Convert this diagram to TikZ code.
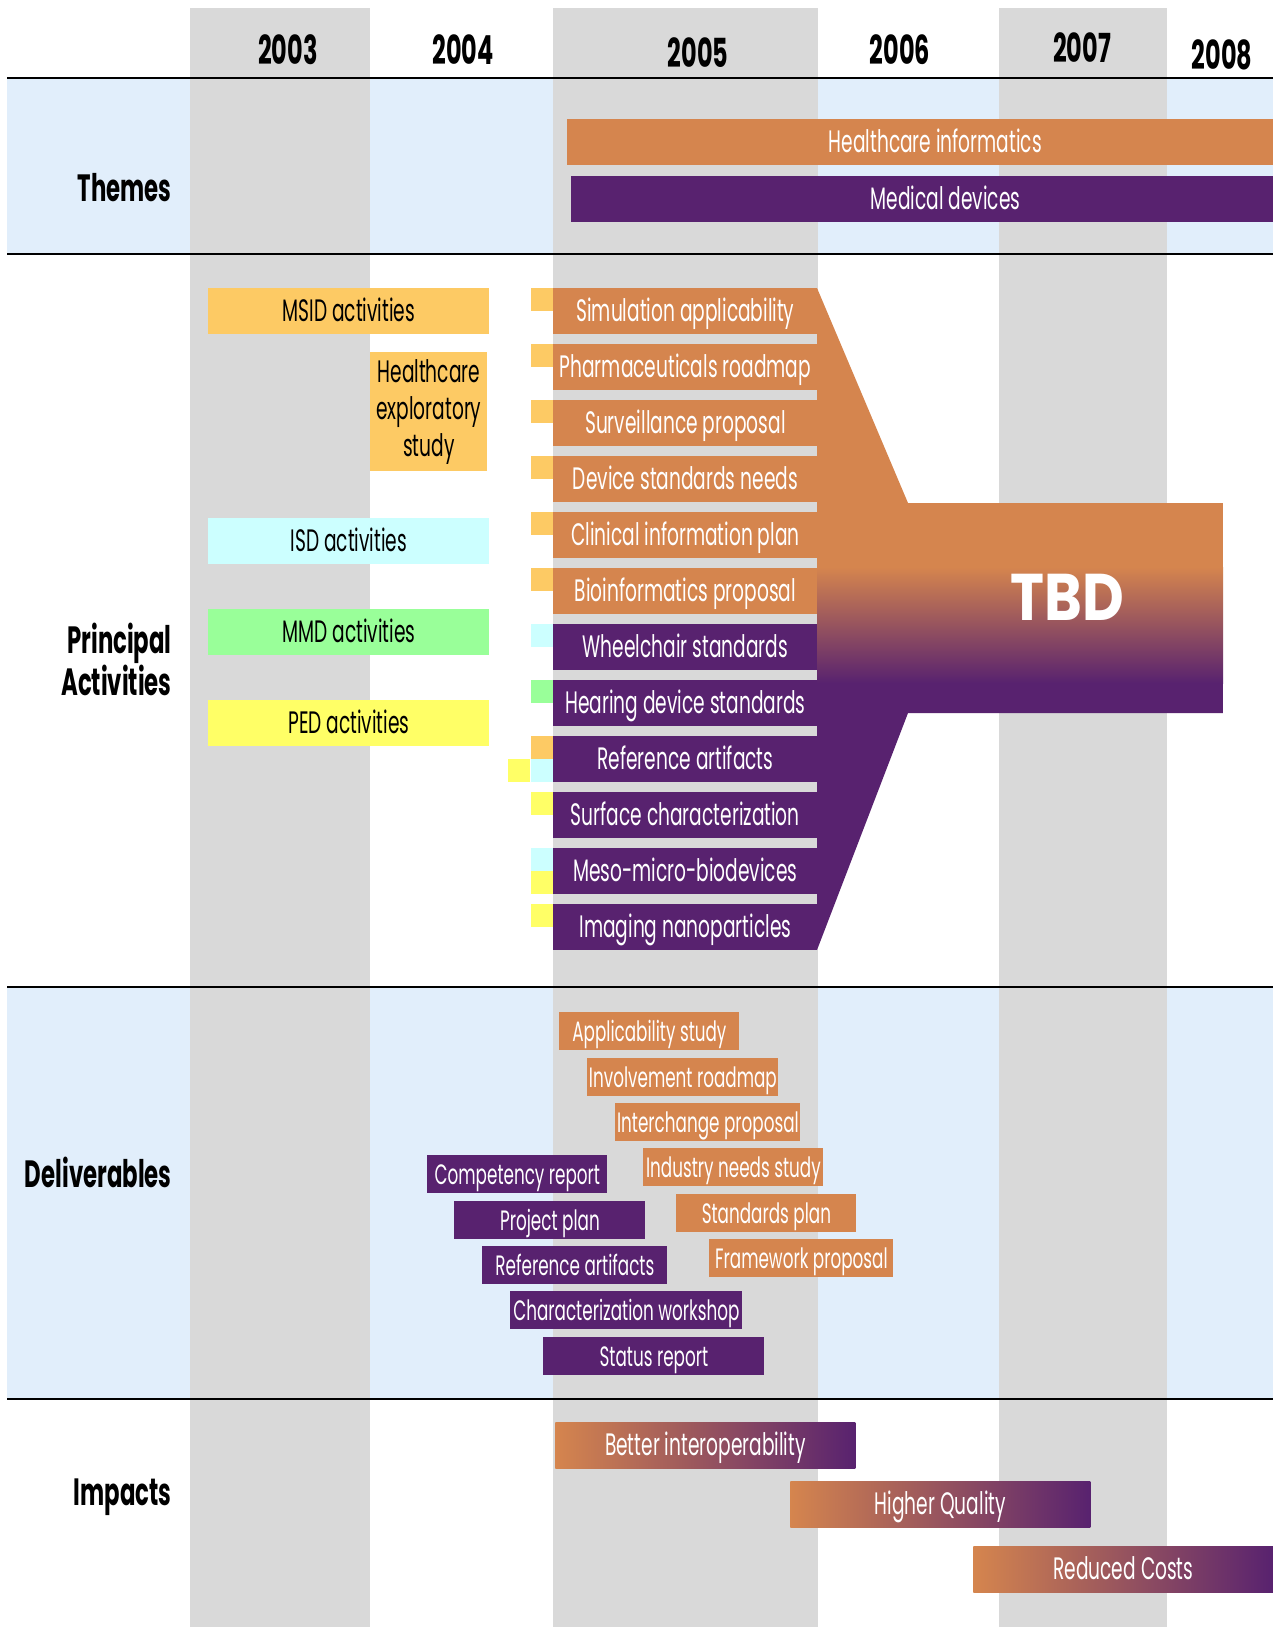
\documentclass[tikz,border=0pt]{standalone}
\usepackage{fontspec}
\setmainfont{Poppins}[FakeStretch = 0.6]
\newfontfamily\tbdfont{Poppins}[FakeStretch = 0.87]
\definecolor{hiorange}{RGB}{213,133,78}
\definecolor{mdpurple}{RGB}{88,34,111}
\definecolor{msidcol}{RGB}{253,202,100}
\definecolor{isdcol}{RGB}{204,255,255}
\definecolor{mmdcol}{RGB}{153,255,153}
\definecolor{pedcol}{RGB}{255,255,102}
\definecolor{yeargray}{RGB}{217,217,217}
\definecolor{bandblue}{RGB}{225,238,251}
\begin{document}
\begin{tikzpicture}[x = 0.5pt, y = -0.5pt,
        boxsize/.style args = {#1 by #2}{minimum width = #1*0.5pt, minimum height = #2*0.5pt},
        heading/.style = {anchor = east, align = right, inner sep = 0pt, font = \fontsize{19}{21}\selectfont\bfseries},
        yearlabel/.style = {font = \fontsize{20}{22}\selectfont\bfseries},
        bartext/.style = {inner sep = 0pt, anchor = north west, text height = 13.5pt, text depth = 3pt, font = \fontsize{15.5}{18.5}\selectfont},
        actbar/.style = {bartext, boxsize = 264 by 46, text = white},
        sidebar/.style = {bartext, text = black},
        delbar/.style = {bartext, boxsize = #1 by 38, text = white, text height = 12.5pt, text depth = 2.6pt, font = \fontsize{14}{16}\selectfont},
        impbar/.style = {bartext, boxsize = 300 by 46, text = white, left color = hiorange, right color = mdpurple}]
        %
        \useasboundingbox (0, 0) rectangle (1273, 1627);
        \fill [white] (0, 0) rectangle (1273, 1627);

        % bands and year columns
        \fill [bandblue] (7, 78) rectangle (1273, 254);
        \fill [bandblue] (7, 987) rectangle (1273, 1399);
        \foreach \l/\r in {190/370, 553/818, 999/1167}
        {
            \fill [yeargray] (\l, 8) rectangle (\r, 1627);
        }
        \foreach \it in {78, 254, 987, 1399}
        {
            \draw [line width = 1.2pt] (7, \it) -- (1273, \it);
        }

        % years
        \foreach \yr/\yx/\yy in {2003/288/50, 2004/463/50, 2005/698/53, 2006/900/50, 2007/1082/48, 2008/1222/55}
        {
            \node [yearlabel] (y\yr) at (\yx, \yy) {\yr};
        }

        % row headings
        \node [heading] (themes) at (172, 188) {Themes};
        \node [heading] (principal) at (172, 659) {Principal\\Activities};
        \node [heading] (deliverables) at (172, 1172) {Deliverables};
        \node [heading] (impacts) at (172, 1497) {Impacts};

        % themes, running on past the right edge
        \node [bartext, boxsize = 736 by 46, fill = hiorange, text = white] (hcinfo) at (567, 119) {Healthcare informatics};
        \node [bartext, boxsize = 748 by 46, fill = mdpurple, text = white] (meddev) at (571, 176) {Medical devices};

        % division activities
        \node [sidebar, boxsize = 281 by 46, fill = msidcol] (msid) at (208, 288) {MSID activities};
        \node [sidebar, boxsize = 117 by 119, fill = msidcol, align = center, text height = {}, text depth = {}] (hcstudy) at (370, 352) {Healthcare\\exploratory\\study};
        \node [sidebar, boxsize = 281 by 46, fill = isdcol] (isd) at (208, 518) {ISD activities};
        \node [sidebar, boxsize = 281 by 46, fill = mmdcol] (mmd) at (208, 609) {MMD activities};
        \node [sidebar, boxsize = 281 by 46, fill = pedcol] (ped) at (208, 700) {PED activities};

        % funnel into tbd
        \begin{scope}
            \clip (817, 288) -- (908, 503) -- (1223, 503) -- (1223, 713) -- (908, 713) -- (817, 950) -- cycle;
            \fill [hiorange] (817, 288) rectangle (1223, 567);
            \shade [top color = hiorange, bottom color = mdpurple] (817, 567) rectangle (1223, 683);
            \fill [mdpurple] (817, 683) rectangle (1223, 950);
        \end{scope}
        \node [text = white, font = \tbdfont\fontsize{33}{36}\selectfont\bfseries] (tbd) at (1067, 597) {TBD};

        % activity squares
        \foreach \sx/\sy/\col in {531/288/msidcol, 531/344/msidcol, 531/400/msidcol, 531/456/msidcol, 531/512/msidcol, 531/568/msidcol,
            531/624/isdcol, 531/680/mmdcol, 531/736/msidcol, 531/759/isdcol, 508/759/pedcol, 531/792/pedcol,
            531/848/isdcol, 531/871/pedcol, 531/904/pedcol}
        {
            \fill [\col] (\sx, \sy) rectangle ++(22, 23);
        }

        % activities
        \foreach [count = \i] \nm/\txt/\col in {simul/Simulation applicability/hiorange, pharma/Pharmaceuticals roadmap/hiorange,
            surveil/Surveillance proposal/hiorange, devneeds/Device standards needs/hiorange,
            clinic/Clinical information plan/hiorange, bioinf/Bioinformatics proposal/hiorange,
            wheel/Wheelchair standards/mdpurple, hearing/Hearing device standards/mdpurple,
            refart/Reference artifacts/mdpurple, surface/Surface characterization/mdpurple,
            meso/Meso-micro-biodevices/mdpurple, imaging/Imaging nanoparticles/mdpurple}
        {
            \node [actbar, fill = \col] (\nm) at (553, {288 + 56*(\i - 1)}) {\txt};
        }

        % deliverables
        \foreach \nm/\dx/\dy/\dw/\txt/\col in {applic/559/1012/180/Applicability study/hiorange,
            involve/587/1058/191/Involvement roadmap/hiorange, interch/615/1103/185/Interchange proposal/hiorange,
            industry/643/1148/180/Industry needs study/hiorange, stdplan/676/1194/180/Standards plan/hiorange,
            framework/709/1239/184/Framework proposal/hiorange,
            compet/427/1155/180/Competency report/mdpurple, projplan/454/1201/191/Project plan/mdpurple,
            refrep/482/1246/185/Reference artifacts/mdpurple, charws/510/1291/232/Characterization workshop/mdpurple,
            status/543/1337/221/Status report/mdpurple}
        {
            \node [delbar = \dw, fill = \col] (\nm) at (\dx, \dy) {\txt};
        }

        % impacts
        \node [impbar] (interop) at (555, 1422) {Better interoperability};
        \node [impbar] (quality) at (790, 1481) {Higher Quality};
        \node [impbar] (costs) at (973, 1546) {Reduced Costs};
    \end{tikzpicture}
\end{document}
